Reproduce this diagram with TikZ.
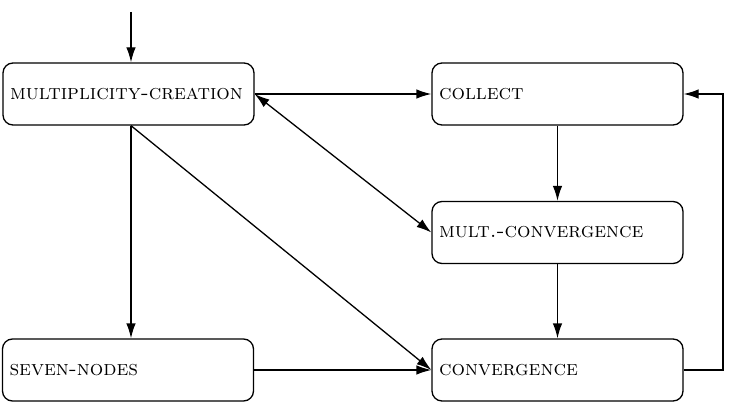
\documentclass[tikz,border=0pt]{standalone}
\usetikzlibrary{arrows.meta}
\begin{document}
\begin{tikzpicture}[x=1pt,y=1pt,
  box/.style={draw, line width=1.3pt, rounded corners=10pt, minimum width=251pt, minimum height=62pt,
    text width=237pt, align=left, inner xsep=7pt, font=\fontsize{21.2}{25}\selectfont\scshape},
  arr/.style={line width=1.3pt, -{Latex[length=15pt,width=9.5pt]}},
  darr/.style={line width=1.3pt, {Latex[length=15pt,width=9.5pt]}-{Latex[length=15pt,width=9.5pt]}}]
\useasboundingbox (0,0) rectangle (730,413);
\node[box] (MC) at (128.5,319) {multiplicity-creation};
\node[box] (COL) at (557.5,319) {collect};
\node[box] (MCV) at (557.5,180.5) {mult.-convergence};
\node[box] (SN) at (128,43) {seven-nodes};
\node[box] (CV) at (557.5,43) {convergence};
\coordinate (start) at (131,401);
\coordinate (fb) at (723,43);
\draw[arr] (start) -- (start |- MC.north);
\draw[arr] (MC.east) -- (COL.west);
\draw[darr] (MC.east) -- (MCV.west);
\draw[arr] (MC.south -| start) -- (SN.north -| start);
\draw[arr] (MC.south -| start) -- (CV.west);
\draw[arr] (SN.east) -- (CV.west);
\draw[arr] (COL.south) -- (MCV.north);
\draw[arr] (MCV.south) -- (CV.north);
\draw[arr] (CV.east) -- (fb) |- (COL.east);
\end{tikzpicture}
\end{document}
